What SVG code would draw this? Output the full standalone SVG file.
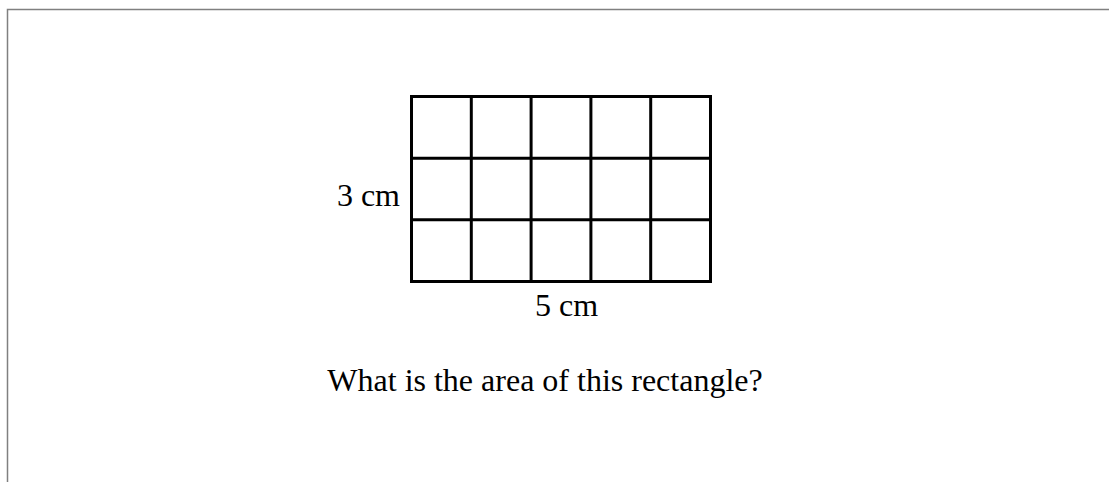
<svg xmlns="http://www.w3.org/2000/svg" width="1109" height="482" viewBox="0 0 1109 482">
  <style>
    .lbl { font-family: "Liberation Serif", "Times New Roman", serif; font-size: 32px; fill: #000; }
    .grid { fill: none; stroke: #000; stroke-width: 3; }
    .frame { fill: none; stroke: #808080; stroke-width: 1.5; }
  </style>
  <rect width="1109" height="482" fill="#fff"/>
  <g id="frame">
    <polyline class="frame" points="7.5,482 7.5,9.5 1109,9.5"/>
  </g>
  <g id="grid">
    <rect class="grid" x="411.5" y="96.5" width="299" height="185"/>
    <line class="grid" x1="471.3" y1="96.5" x2="471.3" y2="281.5"/>
    <line class="grid" x1="531.1" y1="96.5" x2="531.1" y2="281.5"/>
    <line class="grid" x1="590.9" y1="96.5" x2="590.9" y2="281.5"/>
    <line class="grid" x1="650.7" y1="96.5" x2="650.7" y2="281.5"/>
    <line class="grid" x1="411.5" y1="158.2" x2="710.5" y2="158.2"/>
    <line class="grid" x1="411.5" y1="219.8" x2="710.5" y2="219.8"/>
  </g>
  <g id="label-height">
    <text class="lbl" x="400" y="206" text-anchor="end">3 cm</text>
  </g>
  <g id="label-width">
    <text class="lbl" x="566.5" y="316" text-anchor="middle">5 cm</text>
  </g>
  <g id="question">
    <text class="lbl" x="545" y="391" text-anchor="middle">What is the area of this rectangle?</text>
  </g>
</svg>
